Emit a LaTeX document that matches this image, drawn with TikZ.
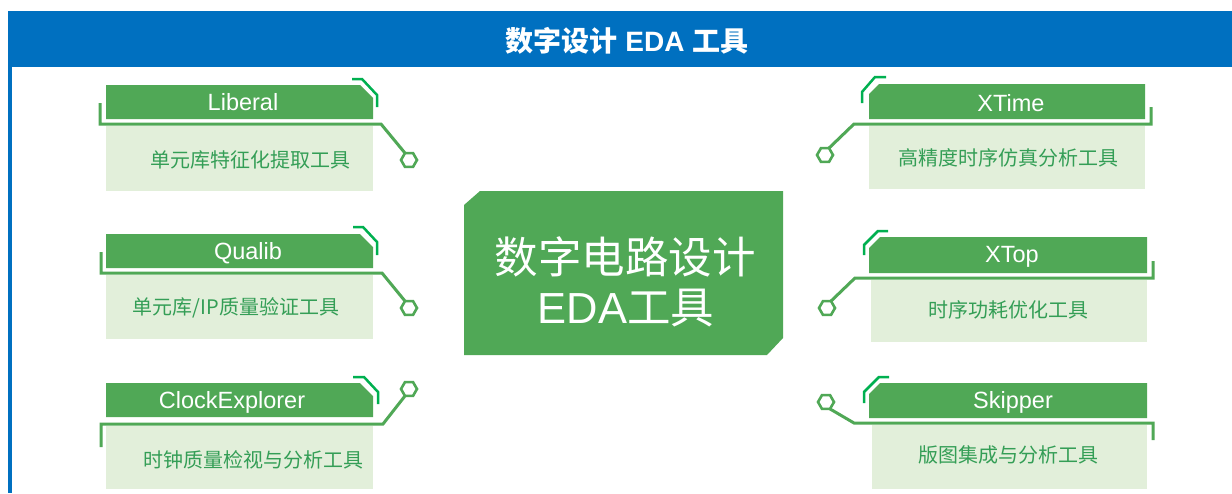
\documentclass[tikz,border=0pt]{standalone}
\usepackage{fontspec}
\setmainfont{Liberation Sans}
\newfontfamily\cjk{Noto Sans CJK SC}
\usetikzlibrary{shapes.geometric}
\definecolor{bannerblue}{RGB}{0,112,192}
\definecolor{hdrgreen}{RGB}{80,168,86}
\definecolor{bodygreen}{RGB}{226,239,218}
\definecolor{accentgreen}{RGB}{0,176,80}
\definecolor{txtgreen}{RGB}{52,158,86}
\tikzset{
  hdr/.style={fill=hdrgreen, draw=none},
  bodybox/.style={fill=bodygreen, draw=none},
  wire/.style={draw=hdrgreen, line width=3pt, line join=miter},
  accent/.style={draw=accentgreen, line width=2.5pt, line join=miter},
  hdrtext/.style={text=white, font=\fontsize{23.5}{23.5}\selectfont, inner sep=0pt},
  bodytext/.style={text=txtgreen, font=\cjk\fontsize{20}{20}\selectfont, inner sep=0pt},
  hexnode/.style={regular polygon, regular polygon sides=6, minimum size=16pt, inner sep=0pt, outer sep=0pt, draw=hdrgreen, line width=2.6pt, fill=white},
  bigtext/.style={text=white, font=\cjk\fontsize{43.5}{43.5}\selectfont, inner sep=0pt},
}
\begin{document}
\begin{tikzpicture}[x=1pt,y=-1pt]
\useasboundingbox (0,0) rectangle (1232,493);
\fill[white] (0,0) rectangle (1232,493);
% banner
\fill[bannerblue] (8,11) rectangle (1232,67);
\fill[bannerblue] (8,67) rectangle (12,493);
\node[text=white, inner sep=0pt, font=\fontsize{28}{28}\selectfont\bfseries] (title) at (627,41) {{\cjk 数字设计} EDA {\cjk 工具}};

% ---------- left boxes ----------
% box 1
\fill[bodybox] (106,126) rectangle (373,191);
\fill[hdr] (106,85) -- (360,85) -- (373,98) -- (373,119) -- (106,119) -- cycle;
\node[hexnode] (hex1) at (409,160) {};
\coordinate (w1a) at (100,103);
\coordinate (w1b) at (100,124);
\coordinate (w1c) at (381,124);
\draw[wire] (w1a) -- (w1b) -- (w1c) -- (hex1.120);
\draw[accent] (352,79) -- (362,79) -- (377,95) -- (377,107);
\node[hdrtext] (h1) at (243,102) {Liberal};
\node[bodytext] (b1) at (250,160) {单元库特征化提取工具};

% box 2
\fill[bodybox] (106,275) rectangle (373,339);
\fill[hdr] (106,234) -- (360,234) -- (373,247) -- (373,268) -- (106,268) -- cycle;
\node[hexnode] (hex2) at (409,308) {};
\coordinate (w2a) at (101,252);
\coordinate (w2b) at (101,273);
\coordinate (w2c) at (382,273);
\draw[wire] (w2a) -- (w2b) -- (w2c) -- (hex2.120);
\draw[accent] (353,227) -- (363,227) -- (377,242) -- (377,255);
\node[hdrtext] (h2) at (248,253) {Qualib};
\node[bodytext] (b2) at (236,308) {单元库/IP质量验证工具};

% box 3
\fill[bodybox] (106,426) rectangle (373,489);
\fill[hdr] (106,383) -- (360,383) -- (373,396) -- (373,417) -- (106,417) -- cycle;
\node[hexnode] (hex3) at (409,389) {};
\coordinate (w3a) at (101,447);
\coordinate (w3b) at (101,424);
\coordinate (w3c) at (383,424);
\draw[wire] (w3a) -- (w3b) -- (w3c) -- (hex3.240);
\draw[accent] (353,377) -- (364,377) -- (378,392) -- (378,404);
\node[hdrtext] (h3) at (232,402) {ClockExplorer};
\node[bodytext] (b3) at (253,460) {时钟质量检视与分析工具};

% ---------- right boxes ----------
% box 4
\fill[bodybox] (869,126) rectangle (1145,189);
\fill[hdr] (879,84) -- (1145,84) -- (1145,119) -- (869,119) -- (869,94) -- cycle;
\node[hexnode] (hex4) at (825,155) {};
\coordinate (w4a) at (1151,107);
\coordinate (w4b) at (1151,124);
\coordinate (w4c) at (854,124);
\draw[wire] (w4a) -- (w4b) -- (w4c) -- (hex4.60);
\draw[accent] (886,77) -- (875,77) -- (862,92) -- (862,103);
\node[hdrtext] (h4) at (1011,103) {XTime};
\node[bodytext] (b4) at (1008,158) {高精度时序仿真分析工具};

% box 5
\fill[bodybox] (871,280) rectangle (1147,342);
\fill[hdr] (880,237) -- (1147,237) -- (1147,273) -- (869,273) -- (869,248) -- cycle;
\node[hexnode] (hex5) at (827,308) {};
\coordinate (w5a) at (1153,261);
\coordinate (w5b) at (1153,278);
\coordinate (w5c) at (855,278);
\draw[wire] (w5a) -- (w5b) -- (w5c) -- (hex5.60);
\draw[accent] (888,231) -- (878,231) -- (864,245) -- (864,255);
\node[hdrtext] (h5) at (1012,257) {XTop};
\node[bodytext] (b5) at (1008,310) {时序功耗优化工具};

% box 6
\fill[bodybox] (872,425) rectangle (1147,489);
\fill[hdr] (880,383) -- (1147,383) -- (1147,418) -- (869,418) -- (869,394) -- cycle;
\node[hexnode] (hex6) at (826,402) {};
\coordinate (w6a) at (1153,440);
\coordinate (w6b) at (1153,423);
\coordinate (w6c) at (854,423);
\draw[wire] (w6a) -- (w6b) -- (w6c) -- (hex6.300);
\draw[accent] (889,377) -- (879,377) -- (864,392) -- (864,403);
\node[hdrtext] (h6) at (1013,402) {Skipper};
\node[bodytext] (b6) at (1008,455) {版图集成与分析工具};

% ---------- central box ----------
\fill[hdr] (480,191) -- (783,191) -- (783,338) -- (767,355) -- (464,355) -- (464,205) -- cycle;
\node[bigtext] (c1) at (625,257) {数字电路设计};
\node[bigtext] (c2) at (626,308) {{\rmfamily EDA}工具};
\end{tikzpicture}
\end{document}
